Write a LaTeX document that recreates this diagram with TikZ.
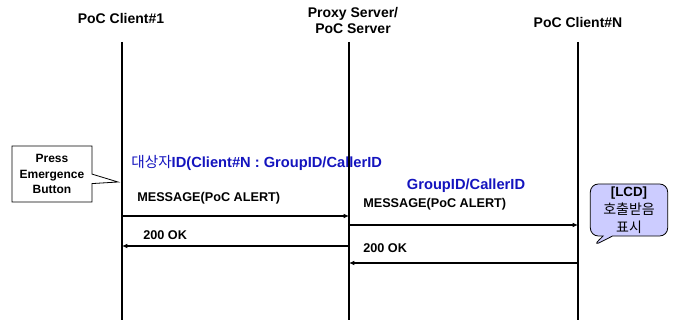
\documentclass[tikz,border=0pt]{standalone}
\usepackage{fontspec}
\setmainfont{Liberation Sans}
\newfontfamily\kofont{Noto Sans CJK KR}
\usetikzlibrary{shapes.callouts,arrows.meta}
\definecolor{idblue}{RGB}{20,20,190}
\definecolor{lcdfill}{RGB}{204,204,255}
\tikzset{
  head/.style={font=\bfseries\fontsize{10.5}{12}\selectfont, align=center, inner sep=0pt},
  lifeline/.style={line width=0.9pt},
  msg/.style={line width=1pt, -{Latex[length=4pt,width=3.5pt]}},
  lbl/.style={font=\bfseries\fontsize{9.5}{11}\selectfont, anchor=west, inner sep=0pt},
  idlbl/.style={font=\bfseries\fontsize{11}{12}\selectfont, text=idblue, inner sep=0pt}
}
\begin{document}
\begin{tikzpicture}[x=0.75pt, y=-0.75pt]
    \useasboundingbox (0,0) rectangle (677,320);

    % Draw nodes
    \node[head] (c1) at (121, 18) {PoC Client\#1};
    \node[head] (px) at (353, 20) {Proxy Server/\\PoC Server};
    \node[head] (cn) at (578, 22) {PoC Client\#N};

    \coordinate (e1) at (122, 320);
    \coordinate (ep) at (349, 320);
    \coordinate (en) at (578, 320);

    \node[rectangle callout, draw, line width=0.6pt, minimum width=60pt, minimum height=42pt,
          align=center, inner sep=1pt, font=\bfseries\fontsize{9}{11.5}\selectfont,
          callout absolute pointer={(118,182)}] (press) at (52, 174) {Press\\Emergence\\Button};
    \node[rectangle callout, draw, rounded corners=6pt, fill=lcdfill, line width=0.6pt,
          minimum width=58pt, minimum height=39pt, align=center, inner sep=1pt,
          font=\fontsize{10.5}{12.5}\selectfont,
          callout absolute pointer={(593,246)}] (lcd) at (629, 210)
          {{\bfseries\fontsize{10}{12.5}\selectfont [LCD]}\\[1pt]{\kofont 호출받음}\\[1pt]{\kofont 표시}};

    \node[idlbl, anchor=west] (tid) at (131, 163) {{\kofont\mdseries 대상자}ID(Client\#N : GroupID/CallerID};
    \node[idlbl] (gid) at (466, 186) {GroupID/CallerID};

    \node[lbl] (m1) at (137, 198) {MESSAGE(PoC ALERT)};
    \node[lbl] (ok1) at (143, 235) {200 OK};
    \node[lbl] (m2) at (363, 204) {MESSAGE(PoC ALERT)};
    \node[lbl] (ok2) at (363, 248) {200 OK};

    \coordinate (a1s) at (122, 216);
    \coordinate (a1e) at (349, 216);
    \coordinate (b1s) at (349, 246);
    \coordinate (b1e) at (122, 246);
    \coordinate (a2s) at (349, 225);
    \coordinate (a2e) at (578, 225);
    \coordinate (b2s) at (578, 263);
    \coordinate (b2e) at (349, 263);

    % Draw edges
    \draw[lifeline] (122, 42) -- (e1);
    \draw[lifeline] (349, 42) -- (ep);
    \draw[lifeline] (578, 42) -- (en);

    \draw[msg] (a1s) -- (a1e);
    \draw[msg] (b1s) -- (b1e);
    \draw[msg, line width=1.6pt] (a2s) -- (a2e);
    \draw[msg] (b2s) -- (b2e);
\end{tikzpicture}
\end{document}
